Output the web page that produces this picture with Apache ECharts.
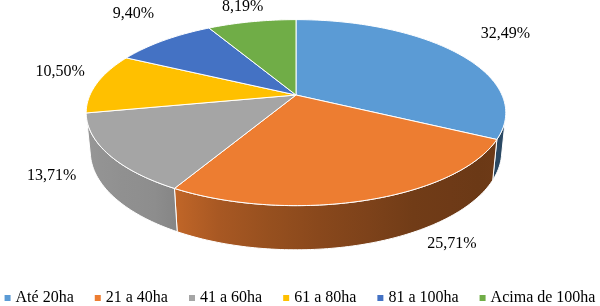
<!DOCTYPE html>
<html>
<head>
<meta charset="utf-8">
<script src="https://cdn.jsdelivr.net/npm/echarts@6/dist/echarts.min.js"></script>
<style>
html,body{margin:0;padding:0;background:#fff;}
#chart{width:600px;height:306px;}
</style>
</head>
<body>
<div id="chart"></div>
<script>
// ---- data ----
const categories = ['Até 20ha', '21 a 40ha', '41 a 60ha', '61 a 80ha', '81 a 100ha', 'Acima de 100ha'];
const values = [32.49, 25.71, 13.71, 10.50, 9.40, 8.19];

// ---- style ----
const colors = ['#5B9BD5', '#ED7D31', '#A5A5A5', '#FFC000', '#4472C4', '#70AD47'];
const FONT = 'Liberation Serif';

// 3D pie geometry (perspective projection of a disc)
const CX = 296, CY = 95, F = 206;
const ALPHA = 25.8 * Math.PI / 180;
const SA = Math.sin(ALPHA), CA = Math.cos(ALPHA);
const L = 4.75;       // camera distance (in radius units)
const DEPTH = 0.209;  // thickness (in radius units)
const LABEL_R = 1.28;
const labelNudge = [[10, -8], [57, 6], [5, 3], [17, -8], [1, -13], [1, 2]];

function proj(thetaDeg, r, h) {
  const t = thetaDeg * Math.PI / 180;
  const X = r * Math.sin(t), D = r * Math.cos(t);
  const vert = D * SA + h * CA;
  const depth = D * CA - h * SA;
  const s = L / (L + depth);
  return [CX + F * X * s, CY - F * vert * s];
}

// visible wall range (tangent points from camera ground position)
const camGround = L * CA;
const halfVis = Math.acos(1 / camGround) * 180 / Math.PI;
const VIS0 = 180 - halfVis, VIS1 = 180 + halfVis;

function shadeFactor(theta) {
  const pts = [[90, 0.5], [125, 0.45], [150, 0.47], [180, 0.6], [205, 0.75], [212, 0.85], [270, 0.94]];
  if (theta <= pts[0][0]) return pts[0][1];
  for (let k = 1; k < pts.length; k++) {
    if (theta <= pts[k][0]) {
      const a = pts[k - 1], b = pts[k];
      return a[1] + (b[1] - a[1]) * (theta - a[0]) / (b[0] - a[0]);
    }
  }
  return pts[pts.length - 1][1];
}
function shade(hex, f) {
  const n = parseInt(hex.slice(1), 16);
  const r = Math.round(((n >> 16) & 255) * f), g = Math.round(((n >> 8) & 255) * f), b = Math.round((n & 255) * f);
  return 'rgb(' + r + ',' + g + ',' + b + ')';
}

const total = values.reduce((a, b) => a + b, 0);
const starts = [];
{
  let acc = 0;
  values.forEach(v => { starts.push(acc / total * 360); acc += v; });
}

function arcPoints(a0, a1, r, h) {
  const pts = [];
  const n = Math.max(2, Math.ceil((a1 - a0) / 1));
  for (let k = 0; k <= n; k++) pts.push(proj(a0 + (a1 - a0) * k / n, r, h));
  return pts;
}

function renderSlice(i, params, api) {
  const a0 = starts[i];
  const a1 = a0 + values[i] / total * 360;
  const children = [];
  // wall
  const w0 = Math.max(a0, VIS0), w1 = Math.min(a1, VIS1);
  if (w1 > w0) {
    const top = arcPoints(w0, w1, 1, 0);
    const bot = arcPoints(w0, w1, 1, -DEPTH).reverse();
    const xs = proj(w0, 1, 0)[0], xe = proj(w1, 1, 0)[0];
    const stops = [];
    const ns = 8;
    for (let k = 0; k <= ns; k++) {
      const th = w0 + (w1 - w0) * k / ns;
      const x = proj(th, 1, 0)[0];
      let off = (xe === xs) ? k / ns : (x - xs) / (xe - xs);
      off = Math.min(1, Math.max(0, off));
      stops.push({ offset: off, color: shade(colors[i], shadeFactor(th)) });
    }
    stops.sort((p, q) => p.offset - q.offset);
    children.push({
      type: 'polygon',
      shape: { points: top.concat(bot) },
      style: {
        fill: new echarts.graphic.LinearGradient(xs, 0, xe === xs ? xs + 1 : xe, 0, stops, true),
        stroke: '#ffffff', lineWidth: 1
      },
      z2: 1
    });
  }
  // top face
  const facePts = [proj(0, 0, 0)].concat(arcPoints(a0, a1, 1, 0));
  children.push({
    type: 'polygon',
    shape: { points: facePts },
    style: { fill: colors[i], stroke: '#ffffff', lineWidth: 1 },
    z2: 2
  });
  // label
  const mid = (a0 + a1) / 2;
  const lp = proj(mid, LABEL_R, 0);
  children.push({
    type: 'text',
    x: lp[0] + labelNudge[i][0],
    y: lp[1] + labelNudge[i][1],
    style: {
      text: values[i].toFixed(2).replace('.', ',') + '%',
      fill: '#000000',
      font: '16px "' + FONT + '"',
      align: 'center',
      verticalAlign: 'middle'
    },
    z2: 10
  });
  return { type: 'group', children };
}

const chart = echarts.init(document.getElementById('chart'), null, { renderer: 'canvas' });
chart.setOption({
  animation: false,
  color: colors,
  legend: {
    top: 290,
    left: 'center',
    padding: 0,
    icon: 'rect',
    itemWidth: 6,
    itemHeight: 6,
    itemGap: 21,
    textStyle: { fontFamily: FONT, fontSize: 16, color: '#000' },
    data: categories
  },
  series: categories.map((name, i) => ({
    type: 'custom',
    name: name,
    coordinateSystem: 'none',
    data: [values[i]],
    itemStyle: { color: colors[i] },
    renderItem: (params, api) => renderSlice(i, params, api)
  }))
});
</script>
</body>
</html>
